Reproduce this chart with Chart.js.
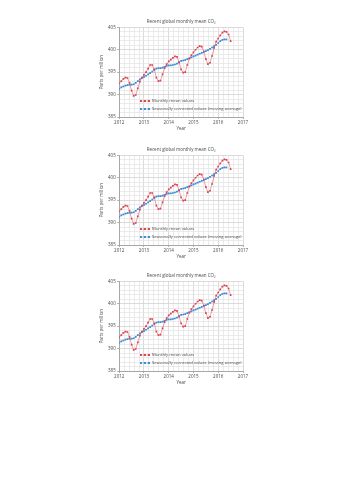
<!DOCTYPE html>
<html><head><meta charset="utf-8">
<script src="https://cdn.jsdelivr.net/npm/chart.js@4/dist/chart.umd.min.js"></script>
<style>
html,body{margin:0;padding:0;background:#fff;width:353px;height:500px;overflow:hidden;}
.wrap{position:absolute;left:0;width:353px;height:131px;}
</style></head><body>
<div class="wrap" style="top:0px"><canvas id="c1"></canvas></div>
<div class="wrap" style="top:128px"><canvas id="c2"></canvas></div>
<div class="wrap" style="top:254px"><canvas id="c3"></canvas></div>
<script>
const chartTitle = 'Recent global monthly mean CO\u2082';
const yAxisTitle = 'Parts per million';
const xAxisTitle = 'Year';
const seriesNames = ['Monthly mean values', 'Seasonally corrected values (moving average)'];
const startYear = 2012; // first month = January 2012, one value per month
const monthlyMean = [
  392.5, 393.0, 393.5, 393.8, 393.7, 392.6, 390.9, 389.7, 389.9, 391.4, 392.9, 393.8,
  394.4, 395.0, 395.8, 396.6, 396.6, 395.6, 393.8, 393.0, 393.1, 394.5, 395.9, 396.8,
  397.4, 397.8, 398.2, 398.5, 398.4, 397.2, 395.6, 394.9, 395.0, 396.6, 398.0, 398.8,
  399.4, 400.0, 400.5, 400.8, 400.7, 399.6, 397.9, 396.8, 397.1, 398.6, 400.4, 401.8,
  402.5, 403.2, 403.8, 404.1, 404.0, 403.4, 401.9
];
const seasonallyCorrected = [
  391.3, 391.6, 391.8, 392.0, 392.1, 392.2, 392.2, 392.3, 392.6, 393.0, 393.4, 393.7,
  393.9, 394.2, 394.5, 394.8, 395.1, 395.5, 395.8, 395.9, 395.9, 396.0, 396.2, 396.4,
  396.5, 396.5, 396.6, 396.7, 396.9, 397.2, 397.5, 397.6, 397.7, 397.9, 398.1, 398.3,
  398.5, 398.7, 398.9, 399.1, 399.3, 399.5, 399.7, 399.9, 400.2, 400.5, 400.8, 401.1,
  401.5, 401.9, 402.2, 402.3, 402.3
];
const xTickYears = [2012, 2013, 2014, 2015, 2016, 2017];
const yTickValues = [385, 390, 395, 400, 405];

const RED = '#dc4150';
const BLUE = '#3d8bd3';
const TXT = '#4a4a4a';
const FONT = {family: "'Open Sans', 'Liberation Sans', sans-serif", size: 4.5, lineHeight: 1, weight: 'normal'};
const LFONT = {family: "'Open Sans', 'Liberation Sans', sans-serif", size: 4.25, lineHeight: 1.2, weight: 'normal'};

function toPoints(arr){ return arr.map((v,i)=>({x: startYear + i/12, y: v})); }
function isYearTick(v){ return xTickYears.some(y => Math.abs(y - v) < 1e-6); }
function isYTick(v){ return yTickValues.some(y => Math.abs(y - v) < 1e-6); }

function sample(color){
  const c = document.createElement('canvas');
  c.width = 10; c.height = 2;
  const g = c.getContext('2d');
  g.fillStyle = color;
  [0,4,8].forEach(x => g.fillRect(x,0,2,2));
  g.globalAlpha = 0.5;
  g.fillRect(0,0.6,10,0.8);
  return c;
}

const placeBoxes = {
  id: 'placeBoxes',
  afterLayout(chart){
    const ca = chart.chartArea;
    const t = chart.titleBlock;
    if (t) { t.left = ca.left; t.right = ca.right; t.width = ca.right - ca.left; }
    const lg = chart.legend; if(!lg) return;
    const w = lg.width, h = lg.height;
    lg.left = ca.left + 17; lg.right = lg.left + w;
    lg.top = ca.bottom - 22; lg.bottom = lg.top + h;
  }
};

function makeChart(id){
  const samples = [sample(RED), sample(BLUE)];
  return new Chart(document.getElementById(id), {
    type: 'line',
    data: {
      datasets: [
        {label: seriesNames[0], data: toPoints(monthlyMean), borderColor: 'rgba(220,65,80,0.7)', borderWidth: 0.7,
         pointStyle: 'rect', pointRadius: 1.2, pointBorderWidth: 0, pointBackgroundColor: RED, tension: 0, fill: false},
        {label: seriesNames[1], data: toPoints(seasonallyCorrected), borderColor: 'rgba(61,139,211,0.7)', borderWidth: 0.7,
         pointStyle: 'rect', pointRadius: 1.2, pointBorderWidth: 0, pointBackgroundColor: BLUE, tension: 0, fill: false}
      ]
    },
    options: {
      responsive: true, maintainAspectRatio: false, animation: false,
      layout: {padding: {left: 99, right: 110, top: 19.8, bottom: 0}},
      plugins: {
        title: {display: true, text: chartTitle, color: TXT, font: FONT, padding: {top: 0, bottom: 3}},
        tooltip: {enabled: false},
        legend: {
          position: 'chartArea', align: 'start',
          labels: {
            usePointStyle: true, pointStyleWidth: 10, padding: 3.6, color: TXT, font: LFONT,
            generateLabels: (chart) => chart.data.datasets.map((d,i)=>({
              text: d.label, pointStyle: samples[i], fillStyle: i ? BLUE : RED,
              strokeStyle: 'rgba(0,0,0,0)', lineWidth: 0, hidden: false, datasetIndex: i, fontColor: TXT
            }))
          }
        }
      },
      scales: {
        x: {
          type: 'linear', min: 2012, max: 2017,
          ticks: {stepSize: 0.2, autoSkip: false, maxRotation: 0, minRotation: 0, padding: 1.5, color: TXT, font: FONT,
                  callback: v => isYearTick(v) ? String(Math.round(v)) : ''},
          grid: {color: c => isYearTick(c.tick.value) ? '#d2d2d2' : '#e6e6e6', lineWidth: 0.8, tickLength: 2,
                 tickColor: c => isYearTick(c.tick.value) ? '#999' : 'rgba(0,0,0,0)'},
          border: {color: '#9a9a9a', width: 0.8},
          title: {display: true, text: xAxisTitle, color: TXT, font: FONT, padding: {top: 0, bottom: 0}}
        },
        y: {
          min: 385, max: 405,
          ticks: {stepSize: 1, autoSkip: false, padding: 1.5, color: TXT, font: FONT,
                  callback: v => isYTick(v) ? String(Math.round(v)) : ''},
          grid: {color: c => isYTick(c.tick.value) ? '#d2d2d2' : '#e6e6e6', lineWidth: 0.8, tickLength: 2,
                 tickColor: c => isYTick(c.tick.value) ? '#999' : 'rgba(0,0,0,0)'},
          border: {color: '#9a9a9a', width: 0.8},
          title: {display: true, text: yAxisTitle, color: TXT, font: FONT, padding: {top: 0, bottom: 3}}
        }
      }
    },
    plugins: [placeBoxes]
  });
}
makeChart('c1'); makeChart('c2'); makeChart('c3');
</script>
</body></html>
